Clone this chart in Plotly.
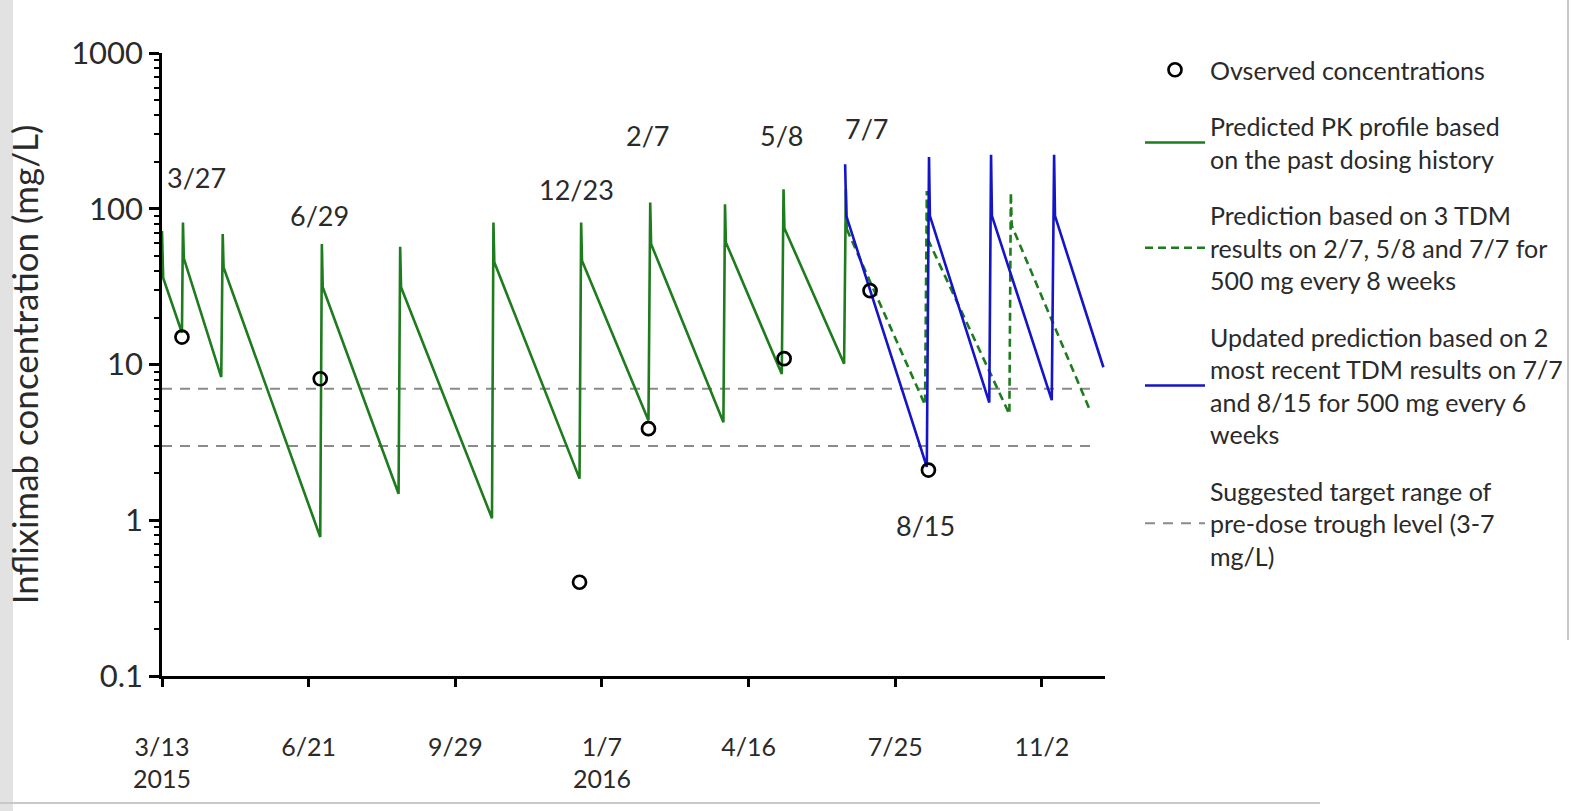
import math
import plotly.graph_objects as go
import pandas as pd

# ---------------- data ----------------
base_date = pd.Timestamp("2015-03-13")

# Observed concentrations (days since 2015-03-13, mg/L)
obs_days = [13.6, 107.9, 284.7, 331.7, 424.2, 482.8, 522.6]
obs_vals = [15.0, 8.1, 0.4, 3.87, 10.9, 29.8, 2.1]

# Predicted PK profile based on the past dosing history (green solid)
pk_days = [0, 0.8, 13.6, 14.3, 14.9, 40.4, 41.4, 42.0, 107.9, 109.0, 109.6,
           161.3, 162.4, 163.0, 225.0, 226.0, 226.6, 284.7, 285.8, 286.4,
           331.7, 332.9, 333.5, 382.8, 383.9, 384.5, 422.6, 423.8, 424.4,
           465.1, 466.3, 466.9]
pk_vals = [72, 36, 16.0, 81.6, 48, 8.3, 68.9, 42, 0.78, 59.4, 31.3,
           1.48, 57, 31.3, 1.03, 81.6, 45.3, 1.85, 81.6, 46.4,
           4.37, 109.6, 59.4, 4.26, 107, 60.8, 8.7, 133.6, 75,
           10.1, 133.6, 74]

# Prediction based on 3 TDM results, 500 mg every 8 weeks (green dashed)
tdm3_days = [466.9, 520.3, 521.5, 522.1, 577.8, 578.8, 579.4, 632.8]
tdm3_vals = [74, 5.5, 130, 64, 4.8, 127, 78, 5.07]

# Updated prediction, 500 mg every 6 weeks (blue)
upd_days = [465.8, 466.6, 521.5, 523.0, 523.6, 564.1, 565.3, 565.9,
            606.7, 608.3, 608.9, 641.9]
upd_vals = [193, 90, 2.2, 215, 90, 5.7, 222, 90, 5.9, 222, 90, 9.6]

# Suggested target range of pre-dose trough level
target_levels = [3, 7]
target_span_days = [0, 635]

# Date annotations: label, day, concentration (position)
ann_labels = ["3/27", "6/29", "12/23", "2/7", "5/8", "7/7", "8/15"]
ann_days = [23.2, 107.2, 282.4, 331.2, 422.8, 480.8, 520.3]
ann_vals = [158, 90, 132, 294, 294, 326, 0.93]

# Axis ticks
xtick_days = [0, 100, 200, 300, 400, 500, 600]
xtick_text = ["3/13<br>2015", "6/21", "9/29", "1/7<br>2016", "4/16", "7/25", "11/2"]
ytick_vals = [0.1, 1, 10, 100, 1000]
ytick_text = ["0.1", "1", "10", "100", "1000"]


def to_dates(days):
    return [base_date + pd.Timedelta(days=d) for d in days]


# ---------------- styling ----------------
GREEN = "#1e7b1e"
BLUE = "#1414c8"
GRAY = "#8a8a8a"
FONT = "Lato"
TXT = "#2a2a2a"

fig = go.Figure()

# target range lines
tx, ty = [], []
for lv in target_levels:
    tx += to_dates(target_span_days) + [None]
    ty += [lv, lv, None]
fig.add_trace(go.Scatter(
    x=tx, y=ty, mode="lines", connectgaps=False,
    line=dict(color=GRAY, width=2, dash="10px,8px"),
    name="Suggested target range of<br>pre-dose trough level (3-7<br>mg/L)",
    legendgroup="e", legendrank=5))

fig.add_trace(go.Scatter(
    x=to_dates(pk_days), y=pk_vals, mode="lines",
    line=dict(color=GREEN, width=2.6),
    name="Predicted PK profile based<br>on the past dosing history",
    legendgroup="b", legendrank=2))

fig.add_trace(go.Scatter(
    x=to_dates(tdm3_days), y=tdm3_vals, mode="lines",
    line=dict(color=GREEN, width=2.6, dash="8px,5px"),
    name="Prediction based on 3 TDM<br>results on 2/7, 5/8 and 7/7 for<br>500 mg every 8 weeks",
    legendgroup="c", legendrank=3))

fig.add_trace(go.Scatter(
    x=to_dates(upd_days), y=upd_vals, mode="lines",
    line=dict(color=BLUE, width=2.6),
    name="Updated prediction based on 2<br>most recent TDM results on 7/7<br>and 8/15 for 500 mg every 6<br>weeks",
    legendgroup="d", legendrank=4))

fig.add_trace(go.Scatter(
    x=to_dates(obs_days), y=obs_vals, mode="markers",
    marker=dict(symbol="circle-open", size=13, color="black",
                line=dict(width=2.7, color="black")),
    name="Ovserved concentrations",
    legendgroup="a", legendrank=1))

for lab, d, v in zip(ann_labels, ann_days, ann_vals):
    fig.add_annotation(x=base_date + pd.Timedelta(days=d), y=math.log10(v),
                       text=lab, showarrow=False,
                       font=dict(family=FONT, size=27, color=TXT))

# plot area geometry (pixels)
L, R, T, B = 162, 1105, 53, 676
W, H = 1571, 811

def px(xp):
    return (xp - L) / (R - L)

def py(yp):
    return (B - yp) / (B - T)

# frame of the original picture
fig.add_shape(type="rect", xref="paper", yref="paper",
              x0=px(0), x1=px(13), y0=py(811), y1=py(0),
              fillcolor="#e2e2e2", line=dict(width=0), layer="below")
fig.add_shape(type="line", xref="paper", yref="paper",
              x0=px(0), x1=px(1320), y0=py(803), y1=py(803),
              line=dict(color="#c8c8c8", width=2))
fig.add_shape(type="line", xref="paper", yref="paper",
              x0=px(1568), x1=px(1568), y0=py(0), y1=py(640),
              line=dict(color="#c8c8c8", width=2))

minor_y = [m * 10 ** e for e in range(-1, 3) for m in range(2, 10)]

fig.update_layout(
    width=W, height=H,
    margin=dict(l=L, r=W - R, t=T, b=H - B, autoexpand=False),
    paper_bgcolor="white", plot_bgcolor="white",
    font=dict(family=FONT, color=TXT),
    legend=dict(x=px(1140), y=py(47), xanchor="left", yanchor="top",
                font=dict(family=FONT, size=25, color=TXT),
                tracegroupgap=21, itemwidth=60, bgcolor="rgba(0,0,0,0)",
                traceorder="grouped", maxheight=780),
    xaxis=dict(
        range=to_dates([0, 643]), showgrid=False, zeroline=False,
        showline=True, linecolor="black", linewidth=2.5,
        ticks="outside", ticklen=8, tickwidth=2.5, tickcolor="black",
        tickmode="array", tickvals=to_dates(xtick_days), ticktext=xtick_text,
        tickfont=dict(family=FONT, size=25, color=TXT),
        ticklabelstandoff=39),
    yaxis=dict(
        type="log", range=[-1, 3], showgrid=False, zeroline=False,
        showline=True, linecolor="black", linewidth=2.5,
        ticks="outside", ticklen=10, tickwidth=2.5, tickcolor="black",
        tickmode="array", tickvals=ytick_vals, ticktext=ytick_text,
        tickfont=dict(family=FONT, size=31, color=TXT),
        minor=dict(ticks="outside", ticklen=5, tickwidth=2, tickcolor="black",
                   tickmode="array", tickvals=minor_y, showgrid=False),
        title=dict(text="Infliximab concentration (mg/L)",
                   font=dict(family=FONT, size=35, color=TXT), standoff=22)),
)

fig.write_html("out.html")
